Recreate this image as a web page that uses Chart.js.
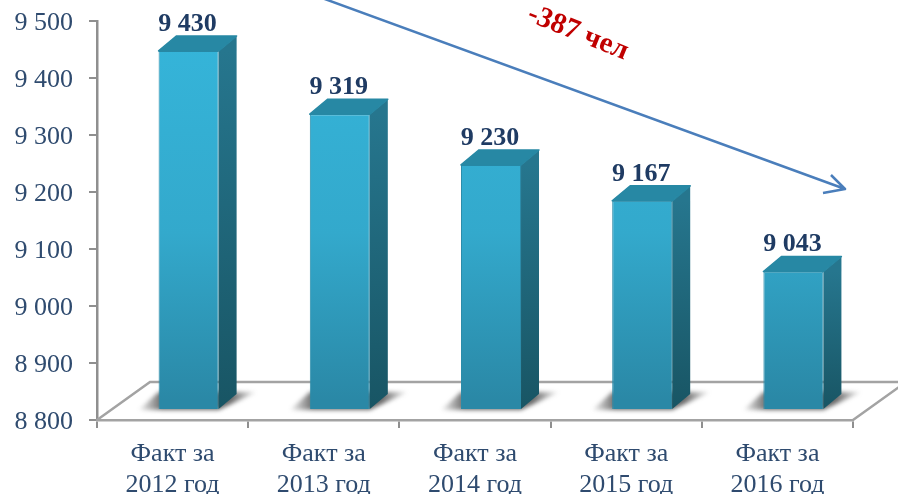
<!DOCTYPE html>
<html>
<head>
<meta charset="utf-8">
<style>
  html, body { margin: 0; padding: 0; background: #fff; }
  #wrap { width: 898px; height: 494px; }
</style>
</head>
<body>
<div id="wrap"><canvas id="chart" width="898" height="494"></canvas></div>
<script src="https://cdn.jsdelivr.net/npm/chart.js@4"></script>
<script>
// Chart data
const categories = [["Факт за", "2012 год"], ["Факт за", "2013 год"], ["Факт за", "2014 год"], ["Факт за", "2015 год"], ["Факт за", "2016 год"]];
const values = [9430, 9319, 9230, 9167, 9043];
const axisMin = 8800;
const axisMax = 9500;
const axisStep = 100;
const changeLabel = "-387 чел";

const serif = "'Liberation Serif', 'Times New Roman', serif";
const textBlue = "#2f4b6f";
const axisGray = "#8f8f8f";

// Depth of the fake 3D bars
const depthX = 18;
const depthY = 15;
// Bars stand on the floor, a bit in front of the axis line
const shiftX = 16;
const shiftY = -10;

function formatNumber(n) {
  return String(n).replace(/\B(?=(\d{3})+$)/g, " ");
}

// Floor under the bars
const floorPlugin = {
  id: "floor",
  afterLayout(chart) {
    // Chart.js has no y offset for tick labels, so push them down a little
    const y = chart.scales.y;
    const drawLabels = y.drawLabels;
    y.drawLabels = function (area) {
      chart.ctx.save();
      chart.ctx.translate(0, 2);
      drawLabels.call(y, area);
      chart.ctx.restore();
    };
  },
  beforeDatasetsDraw(chart) {
    const ctx = chart.ctx;
    const area = chart.chartArea;
    const backY = area.bottom - 38;
    ctx.save();
    ctx.strokeStyle = "#a3a3a3";
    ctx.lineWidth = 2.5;
    ctx.beginPath();
    ctx.moveTo(area.left, area.bottom);
    ctx.lineTo(area.left + 53, backY);
    ctx.lineTo(chart.width, backY);
    ctx.moveTo(area.right, area.bottom);
    ctx.lineTo(area.right + 53, backY);
    ctx.stroke();

    // Soft shadow behind each bar
    chart.getDatasetMeta(0).data.forEach((bar) => {
      const left = bar.x - bar.width / 2 + shiftX;
      const right = bar.x + bar.width / 2 + shiftX;
      const base = bar.base + shiftY;
      const grad = ctx.createLinearGradient(left - 20, 0, right + 38, 0);
      grad.addColorStop(0, "rgba(80,80,80,0.05)");
      grad.addColorStop(0.2, "rgba(80,80,80,0.85)");
      grad.addColorStop(0.78, "rgba(80,80,80,0.85)");
      grad.addColorStop(1, "rgba(80,80,80,0.05)");
      ctx.filter = "blur(2px)";
      ctx.fillStyle = grad;
      ctx.beginPath();
      ctx.moveTo(left - 20, base + 1);
      ctx.lineTo(right, base + 1);
      ctx.lineTo(right + 38, base - 17);
      ctx.lineTo(left, base - 17);
      ctx.closePath();
      ctx.fill();
      ctx.filter = "none";
    });
    ctx.restore();

    // Move the bars themselves onto the floor
    ctx.save();
    ctx.translate(shiftX, shiftY);
  },
  afterDatasetsDraw(chart) {
    const ctx = chart.ctx;
    ctx.restore();

    chart.getDatasetMeta(0).data.forEach((bar, i) => {
      const left = bar.x - bar.width / 2 + shiftX;
      const right = bar.x + bar.width / 2 + shiftX;
      const top = bar.y + shiftY;
      const base = bar.base + shiftY;

      // Side face
      const side = ctx.createLinearGradient(0, top, 0, base);
      side.addColorStop(0, "#26768e");
      side.addColorStop(1, "#185564");
      ctx.fillStyle = side;
      ctx.beginPath();
      ctx.moveTo(right, top);
      ctx.lineTo(right + depthX, top - depthY);
      ctx.lineTo(right + depthX, base - depthY);
      ctx.lineTo(right, base);
      ctx.closePath();
      ctx.fill();

      // Top face, corners slightly rounded
      ctx.fillStyle = "#2788a4";
      ctx.strokeStyle = "#2788a4";
      ctx.lineWidth = 1.5;
      ctx.lineJoin = "round";
      ctx.beginPath();
      ctx.moveTo(left, top);
      ctx.lineTo(left + depthX, top - depthY);
      ctx.lineTo(right + depthX, top - depthY);
      ctx.lineTo(right, top);
      ctx.closePath();
      ctx.fill();
      ctx.stroke();

      // Value over the bar
      ctx.fillStyle = "#1f3b63";
      ctx.font = "bold 26px " + serif;
      ctx.textAlign = "center";
      ctx.textBaseline = "alphabetic";
      ctx.fillText(formatNumber(values[i]), (left + right) / 2 - 1, top - 20);
    });
  },
};

// Trend arrow and its caption
const trendPlugin = {
  id: "trend",
  afterDraw(chart) {
    const ctx = chart.ctx;
    ctx.save();
    ctx.strokeStyle = "#4a7ebb";
    ctx.lineWidth = 2.5;
    ctx.beginPath();
    ctx.moveTo(322, -2);
    ctx.lineTo(845, 189);
    ctx.moveTo(831, 175);
    ctx.lineTo(845, 189);
    ctx.lineTo(823, 193);
    ctx.stroke();

    ctx.translate(578, 33);
    ctx.rotate(22 * Math.PI / 180);
    ctx.fillStyle = "#c00000";
    ctx.font = "bold 29px " + serif;
    ctx.textAlign = "center";
    ctx.textBaseline = "middle";
    ctx.fillText(changeLabel, 0, 0);
    ctx.restore();
  },
};

const ctx = document.getElementById("chart").getContext("2d");
const frontGrad = ctx.createLinearGradient(0, 40, 0, 410);
frontGrad.addColorStop(0, "#35b5da");
frontGrad.addColorStop(0.55, "#33a9cc");
frontGrad.addColorStop(1, "#2a88a6");

new Chart(ctx, {
  type: "bar",
  data: {
    labels: categories,
    datasets: [
      {
        data: values,
        base: axisMin,
        backgroundColor: frontGrad,
        borderColor: "#2a8ba9",
        borderWidth: 1,
        barPercentage: 0.397,
        categoryPercentage: 1,
      },
    ],
  },
  plugins: [floorPlugin, trendPlugin],
  options: {
    responsive: false,
    animation: false,
    events: [],
    layout: { padding: { top: 21, right: 45, left: 0, bottom: 0 } },
    plugins: {
      legend: { display: false },
      title: { display: false },
      tooltip: { enabled: false },
    },
    scales: {
      y: {
        min: axisMin,
        max: axisMax,
        afterFit(scale) {
          scale.width = 97;
          // tick padding would otherwise push the plot area down
          scale.paddingTop = 0;
          scale.paddingBottom = 0;
        },
        ticks: {
          stepSize: axisStep,
          padding: 16,
          color: textBlue,
          font: { family: serif, size: 26 },
          callback: (v) => formatNumber(v),
        },
        border: { color: axisGray, width: 2.5 },
        grid: { drawOnChartArea: false, color: axisGray, tickLength: 8, lineWidth: 2 },
      },
      x: {
        afterFit(scale) {
          scale.height = 74;
        },
        ticks: {
          padding: 11,
          maxRotation: 0,
          color: textBlue,
          font: { family: serif, size: 26, lineHeight: "31px" },
        },
        border: { color: "#a3a3a3", width: 2.5 },
        grid: { drawOnChartArea: false, color: axisGray, tickLength: 8, lineWidth: 2 },
      },
    },
  },
});
</script>
</body>
</html>
